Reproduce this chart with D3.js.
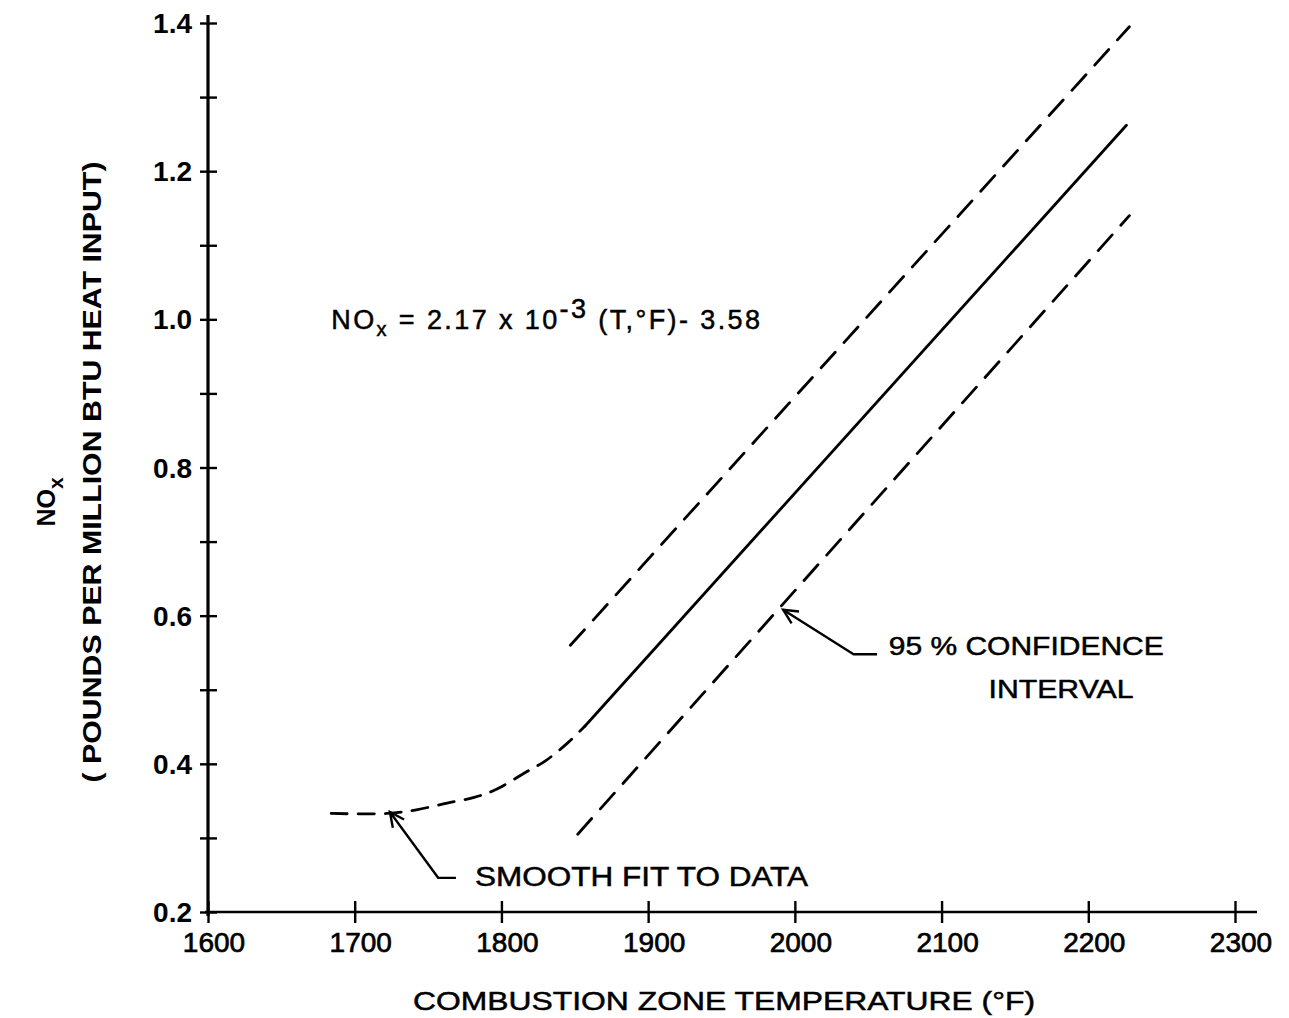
<!DOCTYPE html>
<html><head><meta charset="utf-8">
<script src="https://cdn.jsdelivr.net/npm/d3@7"></script>
<style>body{margin:0;background:#fff} svg{display:block}</style>
</head><body>
<script>
// ---- data ----
const xTicks = [1600,1700,1800,1900,2000,2100,2200,2300];
const xTickLabels = ["1600","1700","1800","1900","2000","2100","2200","2300"];
const yTicks = [0.2,0.3,0.4,0.5,0.6,0.7,0.8,0.9,1.0,1.1,1.2,1.3,1.4];
const yMajorTicks = [0.2,0.4,0.6,0.8,1.0,1.2,1.4];
const yTickLabels = ["0.2","0.4","0.6","0.8","1.0","1.2","1.4"];
const fitT = [1857, 2226];
const fitNOx = [0.451, 1.262];
const upperT = [1847, 2228];
const upperNOx = [0.560, 1.395];
const lowerT = [1852, 2228];
const lowerNOx = [0.305, 1.140];
const smoothT = [1684,1722,1742,1763,1782,1797,1816,1830,1845,1857];
const smoothNOx = [0.333,0.333,0.338,0.347,0.355,0.366,0.388,0.404,0.428,0.451];

const W = 1289, H = 1018;
const svg = d3.select("body").append("svg").attr("width", W).attr("height", H)
  .style("font-family", "'Liberation Sans', Arial, sans-serif");

const x = d3.scaleLinear().domain([1600, 2300]).range([208, 1235]);
const y = d3.scaleLinear().domain([0.2, 1.4]).range([912, 23]);

// axes lines
svg.append("line").attr("x1", x(1600)).attr("x2", x(1600)).attr("y1", y(1.4) - 8).attr("y2", y(0.2) + 4)
  .attr("stroke", "#000").attr("stroke-width", 3.2);
svg.append("line").attr("x1", x(1600) - 3).attr("x2", x(2300) + 22).attr("y1", y(0.2)).attr("y2", y(0.2))
  .attr("stroke", "#000").attr("stroke-width", 2.6);

// y axis ticks
const yAxis = d3.axisLeft(y).tickValues(yTicks).tickSize(8).tickFormat("");
const gy = svg.append("g").attr("transform", `translate(${x(1600)},0)`).call(yAxis);
gy.select(".domain").remove();
gy.selectAll(".tick line").attr("x1", -8).attr("x2", 9).attr("stroke", "#000").attr("stroke-width", 2.4);

svg.append("g").selectAll("text").data(yMajorTicks).join("text")
  .attr("x", x(1600) - 16).attr("y", d => y(d) + 10)
  .attr("text-anchor", "end").attr("font-size", 28).attr("font-weight", "bold")
  .text((d, i) => yTickLabels[i]);

// x axis ticks
const xAxis = d3.axisBottom(x).tickValues(xTicks).tickSize(10).tickFormat("");
const gx = svg.append("g").attr("transform", `translate(0,${y(0.2)})`).call(xAxis);
gx.select(".domain").remove();
gx.selectAll(".tick line").attr("y1", -11).attr("y2", 11).attr("stroke", "#000").attr("stroke-width", 2.4);

svg.append("g").selectAll("text").data(xTicks).join("text")
  .attr("x", d => x(d) + 6).attr("y", y(0.2) + 40)
  .attr("text-anchor", "middle").attr("font-size", 28)
  .attr("stroke", "#000").attr("stroke-width", 0.7)
  .text((d, i) => xTickLabels[i]);

// axis titles
svg.append("text").attr("x", 724).attr("y", 1010).attr("text-anchor", "middle")
  .attr("font-size", 26).attr("stroke", "#000").attr("stroke-width", 0.5)
  .attr("textLength", 622).attr("lengthAdjust", "spacingAndGlyphs")
  .text("COMBUSTION  ZONE  TEMPERATURE   (°F)");

svg.append("text").attr("transform", "translate(101,472) rotate(-90)").attr("text-anchor", "middle")
  .attr("font-size", 25).attr("font-weight", "bold")
  .attr("textLength", 621).attr("lengthAdjust", "spacingAndGlyphs")
  .text("( POUNDS PER MILLION BTU HEAT INPUT)");

const nox = svg.append("text").attr("transform", "translate(55,502) rotate(-90)").attr("text-anchor", "middle")
  .attr("font-size", 25).attr("font-weight", "bold");
nox.append("tspan").text("NO");
nox.append("tspan").attr("dy", 8).attr("font-size", 21).text("x");

// lines
const line = d3.line().x(d => x(d[0])).y(d => y(d[1]));
const smoothLine = d3.line().x(d => x(d[0])).y(d => y(d[1])).curve(d3.curveCatmullRom);

svg.append("path").attr("d", line(fitT.map((t, i) => [t, fitNOx[i]])))
  .attr("fill", "none").attr("stroke", "#000").attr("stroke-width", 2.8).attr("stroke-linecap", "round");
svg.append("path").attr("d", line(upperT.map((t, i) => [t, upperNOx[i]])))
  .attr("fill", "none").attr("stroke", "#000").attr("stroke-width", 2.8).attr("stroke-linecap", "round")
  .attr("stroke-dasharray", "21,13");
svg.append("path").attr("d", line(lowerT.map((t, i) => [t, lowerNOx[i]])))
  .attr("fill", "none").attr("stroke", "#000").attr("stroke-width", 2.8).attr("stroke-linecap", "round")
  .attr("stroke-dasharray", "21,13");
svg.append("path").attr("d", smoothLine(smoothT.map((t, i) => [t, smoothNOx[i]])))
  .attr("fill", "none").attr("stroke", "#000").attr("stroke-width", 2.8).attr("stroke-linecap", "round")
  .attr("stroke-dasharray", "16,11");

// equation
const eq = svg.append("text").attr("x", x(1684)).attr("y", y(1.0) + 10)
  .attr("font-size", 27).attr("stroke", "#000").attr("stroke-width", 0.5)
  .attr("letter-spacing", 2.4);
eq.append("tspan").text("NO");
eq.append("tspan").attr("dy", 7).attr("font-size", 20).text("x");
eq.append("tspan").attr("dy", -7).text(" =   2.17 x 10");
eq.append("tspan").attr("dy", -11).text("-3");
eq.append("tspan").attr("dy", 11).text(" (T,°F)-  3.58");

// annotations
function arrow(pts) {
  const p = pts.map(d => [x(d[0]), y(d[1])]);
  svg.append("path").attr("d", d3.line()(p)).attr("fill", "none")
    .attr("stroke", "#000").attr("stroke-width", 2.4).attr("stroke-linejoin", "round");
  const [tx, ty] = p[p.length - 1];
  const [sx, sy] = p[p.length - 2];
  const a = Math.atan2(sy - ty, sx - tx), L = 16, s = 0.45;
  svg.append("path")
    .attr("d", `M${tx + L * Math.cos(a + s)},${ty + L * Math.sin(a + s)}L${tx},${ty}L${tx + L * Math.cos(a - s)},${ty + L * Math.sin(a - s)}`)
    .attr("fill", "none").attr("stroke", "#000").attr("stroke-width", 2.4);
}
arrow([[1769, 0.246], [1757, 0.246], [1724, 0.335]]);
arrow([[2056, 0.548], [2040, 0.548], [1992, 0.608]]);

svg.append("text").attr("x", x(1782)).attr("y", y(0.248) + 10)
  .attr("font-size", 27).attr("stroke", "#000").attr("stroke-width", 0.5)
  .attr("textLength", 333).attr("lengthAdjust", "spacingAndGlyphs")
  .text("SMOOTH  FIT  TO  DATA");
svg.append("text").attr("x", x(2064)).attr("y", y(0.56) + 10)
  .attr("font-size", 26).attr("stroke", "#000").attr("stroke-width", 0.5)
  .attr("textLength", 275).attr("lengthAdjust", "spacingAndGlyphs")
  .text("95 %  CONFIDENCE");
svg.append("text").attr("x", x(2132)).attr("y", y(0.502) + 10)
  .attr("font-size", 26).attr("stroke", "#000").attr("stroke-width", 0.5)
  .attr("textLength", 145).attr("lengthAdjust", "spacingAndGlyphs")
  .text("INTERVAL");
</script>
</body></html>
